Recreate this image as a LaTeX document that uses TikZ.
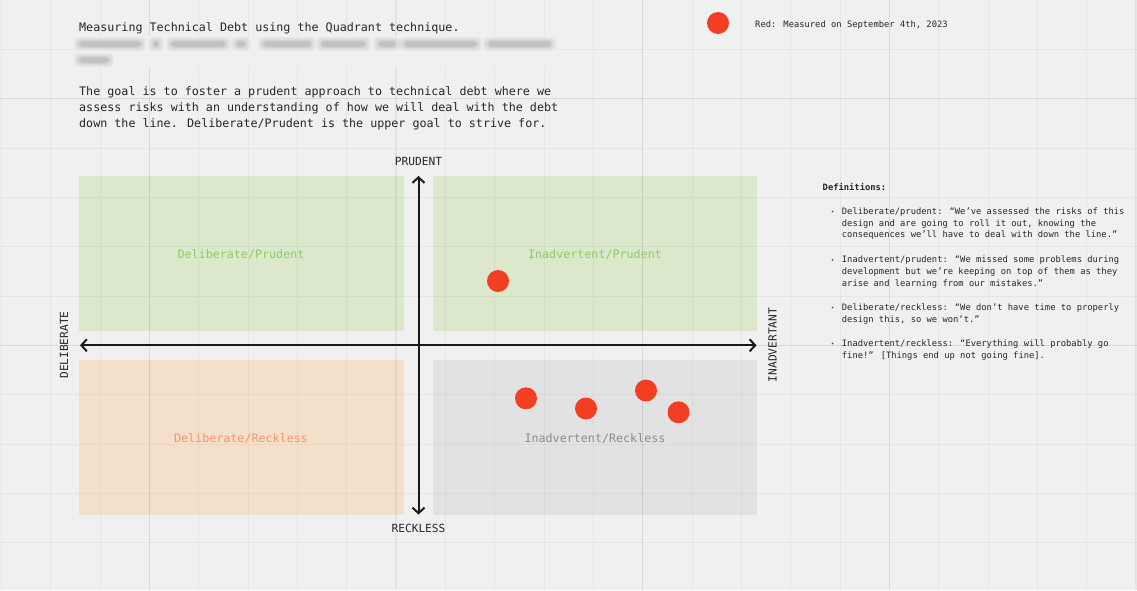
\documentclass[tikz,border=0pt]{standalone}
\usepackage{fontspec}
\setmainfont{DejaVu Sans Mono}
\usetikzlibrary{arrows.meta}
\definecolor{bg}{HTML}{F0F0F0}
\definecolor{qgreen}{HTML}{DBE8CB}
\definecolor{qorange}{HTML}{F4DFCB}
\definecolor{qgray}{HTML}{E2E2E2}
\definecolor{tgreen}{HTML}{8CCB63}
\definecolor{torange}{HTML}{F0986A}
\definecolor{tgray}{HTML}{8C8C8C}
\definecolor{dotred}{HTML}{F23F22}
\definecolor{ink}{HTML}{262626}
\tikzset{
  gridminor/.style={draw=black, opacity=0.04, line width=0.8pt},
  gridmajor/.style={draw=black, opacity=0.06, line width=0.9pt},
  quad/.style={fill=#1, draw=none},
  qlabel/.style={anchor=base, inner sep=0pt, font=\fontsize{11.7}{14}\selectfont, text=#1},
  bodytext/.style={anchor=base west, inner sep=0pt, font=\fontsize{11.7}{14}\selectfont, text=ink},
  axislabel/.style={anchor=base, inner sep=0pt, font=\fontsize{11.2}{14}\selectfont, text=ink},
  deftext/.style={anchor=base west, inner sep=0pt, font=\fontsize{8.8}{11}\selectfont, text=ink},
  bulletdot/.style={circle, fill=ink!80, inner sep=0pt, minimum size=2pt},
  reddot/.style={circle, fill=dotred, inner sep=0pt, minimum size=22pt},
  axis/.style={line width=2pt, draw=black!90, {Straight Barb[length=5.5pt,width=12pt]}-{Straight Barb[length=5.5pt,width=12pt]}},
  blob/.style={fill=black, rounded corners=4pt},
}
\begin{document}
\begin{tikzpicture}[x=1pt,y=-1pt]
\useasboundingbox (0,0) rectangle (1137,590);
\fill[bg] (0,0) rectangle (1137,590);
% quadrants
\fill[quad=qgreen]  (79,176) rectangle (404,331);
\fill[quad=qgreen]  (433,176) rectangle (757,331);
\fill[quad=qorange] (79,360) rectangle (404,515);
\fill[quad=qgray]   (433,360) rectangle (757,515);
% grid
\foreach \i in {0,...,23} {
  \draw[gridminor] ({1.3+49.33*\i},0) -- ({1.3+49.33*\i},590);
}
\foreach \i in {1,...,11} {
  \draw[gridminor] (0,{49.33*\i}) -- (1137,{49.33*\i});
}
\foreach \i in {3,8,13,18,23} {
  \draw[gridmajor] ({1.3+49.33*\i},0) -- ({1.3+49.33*\i},590);
}
\foreach \i in {2,7} {
  \draw[gridmajor] (0,{49.33*\i}) -- (1137,{49.33*\i});
}
% title
\node[bodytext] (title) at (79,31.5) {Measuring Technical Debt using the Quadrant technique.};
% blurred (redacted) text
\fill[bg] (76,35.5) rectangle (556,67);
\foreach \a/\b/\y in {78/142/44, 152/160/44, 170/227/44, 235/247/44, 262/312/44, 320/367/44, 377/397/44, 403/478/44, 487/552/44, 78/110/60} {
  \fill[blob, opacity=0.035] (\a-4,\y-7) rectangle (\b+4,\y+7);
  \fill[blob, opacity=0.045] (\a-2,\y-5.5) rectangle (\b+2,\y+5.5);
  \fill[blob, opacity=0.06] (\a,\y-4) rectangle (\b,\y+4);
  \fill[blob, opacity=0.07, rounded corners=2pt] (\a+2,\y-2.5) rectangle (\b-2,\y+2.5);
}
% body
\node[bodytext] (body1) at (79,95)    {The goal is to foster a prudent approach to technical debt where we};
\node[bodytext] (body2) at (79,111.2) {assess risks with an understanding of how we will deal with the debt};
\node[bodytext] (body3) at (79,127.4) {down the line. Deliberate/Prudent is the upper goal to strive for.};
% legend
\node[reddot] (legdot) at (718,23) {};
\node[deftext] (legtext) at (755,27.3) {Red: Measured on September 4th, 2023};
% quadrant labels
\node[qlabel=tgreen]  (qdp) at (241,258) {Deliberate/Prudent};
\node[qlabel=tgreen]  (qip) at (595,258) {Inadvertent/Prudent};
\node[qlabel=torange] (qdr) at (241,442) {Deliberate/Reckless};
\node[qlabel=tgray]   (qir) at (595,442) {Inadvertent/Reckless};
% axes
\coordinate (left)   at (80,345.3);
\coordinate (right)  at (756.5,345.3);
\coordinate (top)    at (418.5,176);
\coordinate (bottom) at (418.5,514.5);
\draw[axis] (left) -- (right);
\draw[axis] (top) -- (bottom);
\node[axislabel] (prudent)  at (418.5,165) {PRUDENT};
\node[axislabel] (reckless) at (418.5,532.5) {RECKLESS};
\node[axislabel, rotate=90] (deliberate) at (68,345) {DELIBERATE};
\node[axislabel, rotate=90] (inadvertant) at (776.5,345) {INADVERTANT};
% measurements
\node[reddot] (m1) at (498,281) {};
\node[reddot] (m2) at (526,398.3) {};
\node[reddot] (m3) at (586,408.5) {};
\node[reddot] (m4) at (646,390.5) {};
\node[reddot] (m5) at (678.5,412.3) {};
% definitions
\node[deftext, font=\fontsize{8.8}{11}\selectfont\bfseries] (defh) at (822.5,190) {Definitions:};
\node[bulletdot] (b1) at (832.5,211.5) {};
\node[deftext] (d1a) at (841.7,214.3) {Deliberate/prudent: “We’ve assessed the risks of this};
\node[deftext] (d1b) at (841.7,226.0) {design and are going to roll it out, knowing the};
\node[deftext] (d1c) at (841.7,237.7) {consequences we'll have to deal with down the line.”};
\node[bulletdot] (b2) at (832.5,259.9) {};
\node[deftext] (d2a) at (841.7,262.7) {Inadvertent/prudent: “We missed some problems during};
\node[deftext] (d2b) at (841.7,274.4) {development but we’re keeping on top of them as they};
\node[deftext] (d2c) at (841.7,286.1) {arise and learning from our mistakes.”};
\node[bulletdot] (b3) at (832.5,307.5) {};
\node[deftext] (d3a) at (841.7,310.3) {Deliberate/reckless: “We don’t have time to properly};
\node[deftext] (d3b) at (841.7,322.0) {design this, so we won’t.”};
\node[bulletdot] (b4) at (832.5,343.5) {};
\node[deftext] (d4a) at (841.7,346.3) {Inadvertent/reckless: “Everything will probably go};
\node[deftext] (d4b) at (841.7,358.0) {fine!” [Things end up not going fine].};
\end{tikzpicture}
\end{document}
